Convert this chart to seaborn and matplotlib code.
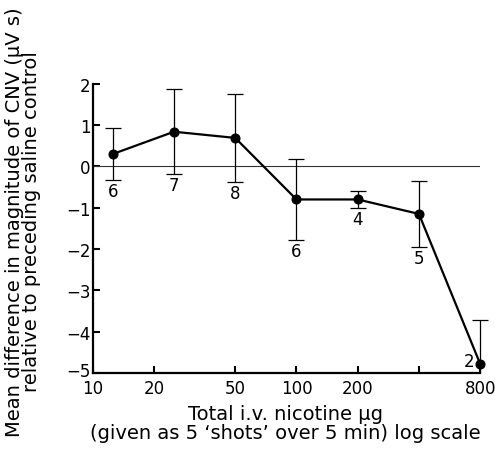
import matplotlib
matplotlib.use("Agg")
import matplotlib.pyplot as plt
import matplotlib.patches as mpatches
import matplotlib.transforms as mtransforms
import seaborn as sns
import pandas as pd
from matplotlib.ticker import FixedLocator, FixedFormatter, NullLocator

dose = [12.5, 25, 50, 100, 200, 400, 800]
mean_diff = [0.30, 0.84, 0.69, -0.80, -0.80, -1.15, -4.78]
err = [0.63, 1.03, 1.07, 0.97, 0.20, 0.79, 1.05]
n_labels = ["6", "7", "8", "6", "4", "5", "2"]
xticks = [10, 20, 50, 100, 200, 400, 800]
xticklabels = ["10", "20", "50", "100", "200", "", "800"]
yticks = [-5, -4, -3, -2, -1, 0, 1, 2]
yticklabels = ["\u22125", "\u22124", "\u22123", "\u22122", "\u22121", "0", "1", "2"]

sns.set_style("ticks")
plt.rcParams['font.family'] = ['DejaVu Sans']
plt.rcParams.update({"text.color": "black", "axes.labelcolor": "black",
                     "xtick.color": "black", "ytick.color": "black",
                     "axes.edgecolor": "black"})

df = pd.DataFrame({"dose": dose, "diff": mean_diff})

fig = plt.figure(figsize=(4.95, 4.56), dpi=100)
ax = fig.add_axes([0.188, 0.180, 0.782, 0.634])

ax.axhline(0, color="#333333", lw=0.8, zorder=1)
eb = ax.errorbar(dose, mean_diff, yerr=err, fmt="none", ecolor="black",
                 elinewidth=0.9, capsize=6, capthick=0.9, zorder=2)
clip_rect = mpatches.Rectangle((-0.2, 0.0), 1.4, 1.2, transform=ax.transAxes,
                               facecolor="none", edgecolor="none")
ax.add_patch(clip_rect)
for art in list(eb.lines[1]) + list(eb.lines[2]):
    art.set_clip_path(clip_rect)

sns.lineplot(data=df, x="dose", y="diff", ax=ax, color="black", lw=1.6,
             marker="o", markersize=6.5, markeredgecolor="black", zorder=3,
             clip_on=False)

ax.set_xscale("log")
ax.set_xlim(10, 800)
ax.set_ylim(-5, 2)
ax.xaxis.set_major_locator(FixedLocator(xticks))
ax.xaxis.set_major_formatter(FixedFormatter(xticklabels))
ax.xaxis.set_minor_locator(NullLocator())
ax.set_yticks(yticks)
ax.set_yticklabels(yticklabels)

for i, (x, y, e, n) in enumerate(zip(dose, mean_diff, err, n_labels)):
    if i == len(dose) - 1:
        ax.annotate(n, (x, y), xytext=(-4, 2), textcoords="offset points",
                    ha="right", va="center", fontsize=12)
    else:
        ax.annotate(n, (x, y - e), xytext=(0, -1.5), textcoords="offset points",
                    ha="center", va="top", fontsize=12)

sns.despine(ax=ax)
for s in ["left", "bottom"]:
    ax.spines[s].set_linewidth(1.6)
ax.tick_params(direction="in", length=5, width=1.5, labelsize=12)
ax.tick_params(axis="x", pad=4.5)
ax.tick_params(axis="y", pad=2)
for lbl in ax.get_yticklabels():
    lbl.set_verticalalignment("center_baseline")
# nudge the lowest y tick label up slightly so it does not touch "10"
low = ax.get_yticklabels()[0]
low.set_transform(low.get_transform() + mtransforms.ScaledTranslation(0, 2.5 / 72, fig.dpi_scale_trans))

ax.set_xlabel("Total i.v. nicotine \u03bcg\n(given as 5 \u2018shots\u2019 over 5 min) log scale",
              fontsize=14, linespacing=1.0)
ax.xaxis.set_label_coords(0.496, -0.107)
ax.set_ylabel("Mean difference in magnitude of CNV (\u03bcV s)\nrelative to preceding saline control",
              fontsize=14, linespacing=0.88)
ax.yaxis.set_label_coords(-0.135, 0.526)

fig.savefig("out.png", dpi=100)
